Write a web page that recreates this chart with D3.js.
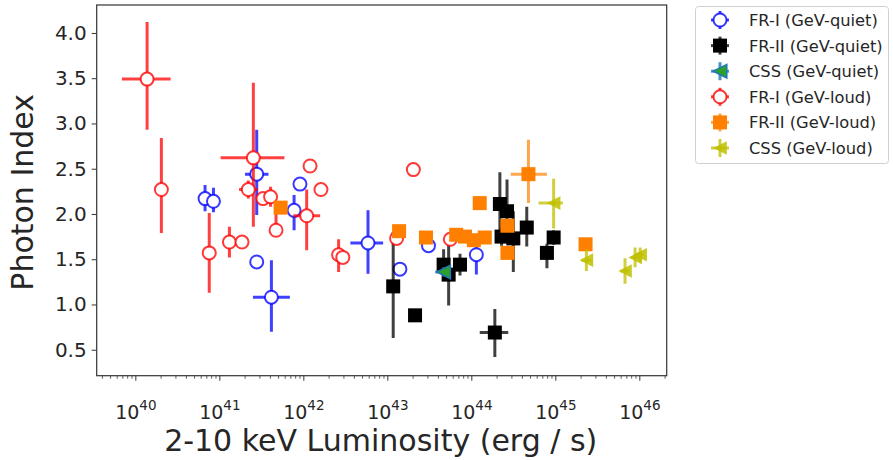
<!DOCTYPE html>
<html>
<head>
<meta charset="utf-8">
<script src="https://cdn.jsdelivr.net/npm/d3@7"></script>
<style>
  html, body { margin: 0; padding: 0; background: #fff; }
  svg { display: block; }
  text { font-family: "DejaVu Sans", sans-serif; fill: #262626; }
</style>
</head>
<body>
<svg id="chart" width="893" height="460"></svg>
<script>
// ---- data: log10(L_2-10keV / erg s^-1), photon index, and asymmetric errors [minus, plus] ----
const friQuietLogL = [40.83, 40.93, 41.445, 41.445, 41.62, 41.89, 41.96, 42.77, 43.15, 43.49, 44.06];
const friQuietGamma = [2.17, 2.14, 2.44, 1.47, 1.08, 2.04, 2.33, 1.68, 1.39, 1.65, 1.55];
const friQuietGammaErr = [[0.14,0.15],[0.12,0.15],[0.45,0.49],[0.05,0.05],[0.38,0.41],[0.22,0.17],[0.05,0.05],[0.34,0.36],[0.05,0.05],[0.03,0.03],[0.22,0.10]];
const friQuietLogLErr = [[0,0],[0,0],[0.14,0.14],[0,0],[0.22,0.22],[0,0],[0,0],[0.21,0.18],[0,0],[0,0],[0,0]];

const friiQuietLogL = [43.07, 43.33, 43.67, 43.73, 43.865, 44.28, 44.34, 44.425, 44.36, 44.50, 44.66, 44.90, 44.98];
const friiQuietGamma = [1.20, 0.88, 1.44, 1.33, 1.44, 0.69, 2.11, 2.03, 1.75, 1.73, 1.85, 1.57, 1.74];
const friiQuietGammaErr = [[0.57,0.60],[0.05,0.06],[0.10,0.17],[0.34,0.38],[0.12,0.12],[0.27,0.26],[0.30,0.35],[0.30,0.35],[0.10,0.10],[0.37,0.30],[0.21,0.23],[0.17,0.10],[0.08,0.08]];
const friiQuietLogLErr = [[0,0],[0,0],[0,0],[0,0],[0,0],[0.18,0.16],[0,0],[0,0],[0,0],[0,0],[0,0],[0,0],[0,0]];

const cssQuietLogL = [43.67];
const cssQuietGamma = [1.36];
const cssQuietGammaErr = [[0.05,0.05]];
const cssQuietLogLErr = [[0.10,0.05]];

const friLoudLogL = [40.14, 40.31, 40.88, 41.12, 41.27, 41.345, 41.405, 41.52, 41.61, 41.675, 42.04, 42.08, 42.21, 42.42, 42.47, 43.11, 43.31, 43.75];
const friLoudGamma = [3.49, 2.27, 1.57, 1.69, 1.69, 2.27, 2.62, 2.17, 2.19, 1.82, 1.98, 2.53, 2.27, 1.55, 1.52, 1.73, 2.49, 1.72];
const friLoudGammaErr = [[0.56,0.63],[0.48,0.57],[0.44,0.44],[0.17,0.17],[0.03,0.03],[0.10,0.10],[0.76,0.83],[0.03,0.03],[0.11,0.11],[0.05,0.20],[0.38,0.29],[0,0],[0,0],[0.19,0.17],[0,0],[0,0],[0,0],[0.03,0.03]];
const friLoudLogLErr = [[0.30,0.28],[0,0],[0,0],[0,0],[0,0],[0.11,0.11],[0.39,0.37],[0,0],[0,0],[0,0],[0.16,0.16],[0,0],[0,0],[0,0],[0,0],[0,0],[0,0],[0,0]];

const friiLoudLogL = [41.73, 43.14, 43.46, 43.82, 43.925, 44.03, 44.16, 44.10, 44.43, 44.43, 44.68, 45.36];
const friiLoudGamma = [2.07, 1.81, 1.74, 1.77, 1.75, 1.71, 1.74, 2.12, 1.87, 1.57, 2.44, 1.665];
const friiLoudGammaErr = [[0.03,0.03],[0.03,0.03],[0.03,0.03],[0.03,0.03],[0.03,0.03],[0.03,0.03],[0.03,0.03],[0.03,0.03],[0.03,0.03],[0.03,0.03],[0.32,0.38],[0.03,0.03]];
const friiLoudLogLErr = [[0,0],[0,0],[0,0],[0,0],[0,0],[0,0],[0,0],[0,0],[0,0],[0,0],[0.21,0.22],[0,0]];

const cssLoudLogL = [44.98, 45.37, 45.83, 45.95, 46.01];
const cssLoudGamma = [2.12, 1.49, 1.37, 1.52, 1.55];
const cssLoudGammaErr = [[0.28,0.27],[0.12,0.12],[0.14,0.14],[0.11,0.11],[0.08,0.08]];
const cssLoudLogLErr = [[0.18,0.11],[0.06,0.06],[0.05,0.05],[0.05,0.05],[0.05,0.05]];

const yTicks = [0.5, 1.0, 1.5, 2.0, 2.5, 3.0, 3.5, 4.0];
const xTickExponents = [40, 41, 42, 43, 44, 45, 46];
const xLabel = "2-10 keV Luminosity (erg / s)";
const yLabel = "Photon Index";

// ---- series styling ----
const series = [
  { name: "FR-I (GeV-quiet)",  logL: friQuietLogL,  gamma: friQuietGamma,  gErr: friQuietGammaErr,  lErr: friQuietLogLErr,
    marker: "circle",   stroke: "rgba(0,0,255,0.78)", fill: "#fff", errColor: "rgba(0,0,255,0.75)" },
  { name: "FR-II (GeV-quiet)", logL: friiQuietLogL, gamma: friiQuietGamma, gErr: friiQuietGammaErr, lErr: friiQuietLogLErr,
    marker: "square",   stroke: "none", fill: "#000", errColor: "rgba(0,0,0,0.75)" },
  { name: "CSS (GeV-quiet)",   logL: cssQuietLogL,  gamma: cssQuietGamma,  gErr: cssQuietGammaErr,  lErr: cssQuietLogLErr,
    marker: "triangle", stroke: "#1f77b4", fill: "#2ca02c", errColor: "rgba(31,119,180,0.8)" },
  { name: "FR-I (GeV-loud)",   logL: friLoudLogL,   gamma: friLoudGamma,   gErr: friLoudGammaErr,   lErr: friLoudLogLErr,
    marker: "circle",   stroke: "rgba(255,0,0,0.78)", fill: "#fff", errColor: "rgba(255,0,0,0.75)" },
  { name: "FR-II (GeV-loud)",  logL: friiLoudLogL,  gamma: friiLoudGamma,  gErr: friiLoudGammaErr,  lErr: friiLoudLogLErr,
    marker: "square",   stroke: "none", fill: "#ff7f00", errColor: "rgba(255,127,0,0.7)" },
  { name: "CSS (GeV-loud)",    logL: cssLoudLogL,   gamma: cssLoudGamma,   gErr: cssLoudGammaErr,   lErr: cssLoudLogLErr,
    marker: "triangle", stroke: "none", fill: "rgba(191,191,0,0.85)", errColor: "rgba(191,191,0,0.75)" }
];

// ---- layout ----
const plot = { left: 96.7, right: 666.7, top: 5, bottom: 375.7 };
const svg = d3.select("#chart");

const x = d3.scaleLog()
  .domain([Math.pow(10, 39.54), Math.pow(10, 46.326)])
  .range([plot.left, plot.right]);
const y = d3.scaleLinear()
  .domain([0.213, 4.309])
  .range([plot.bottom, plot.top]);

svg.append("clipPath").attr("id", "plotclip")
  .append("rect")
  .attr("x", plot.left).attr("y", plot.top)
  .attr("width", plot.right - plot.left).attr("height", plot.bottom - plot.top);

// ---- axes ----
const yAxis = d3.axisLeft(y).tickValues(yTicks).tickFormat(d3.format(".1f")).tickSize(5).tickPadding(5);
const gy = svg.append("g").attr("transform", `translate(${plot.left},0)`).call(yAxis);
gy.select(".domain").remove();
gy.selectAll(".tick line").attr("stroke", "#333").attr("stroke-width", 1);
gy.selectAll(".tick text").style("font-size", "20px").attr("fill", "#262626");

// minor ticks on the log axis: 2..9 x 10^k
const minorVals = [];
for (let e = 39; e <= 46; e++) {
  for (let m = 2; m <= 9; m++) {
    const v = m * Math.pow(10, e);
    if (v > x.domain()[0] && v < x.domain()[1]) minorVals.push(v);
  }
}
const xMinor = d3.axisBottom(x).tickValues(minorVals).tickFormat("").tickSize(3);
const gxm = svg.append("g").attr("transform", `translate(0,${plot.bottom})`).call(xMinor);
gxm.select(".domain").remove();
gxm.selectAll(".tick line").attr("stroke", "#333").attr("stroke-width", 0.8);

const xAxis = d3.axisBottom(x)
  .tickValues(xTickExponents.map(e => Math.pow(10, e)))
  .tickFormat("")
  .tickSize(5);
const gx = svg.append("g").attr("transform", `translate(0,${plot.bottom})`).call(xAxis);
gx.select(".domain").remove();
gx.selectAll(".tick line").attr("stroke", "#333").attr("stroke-width", 1);
gx.selectAll(".tick").each(function(d, i) {
  const t = d3.select(this).append("text")
    .attr("y", 43)
    .attr("text-anchor", "middle")
    .style("font-size", "19px")
    .attr("fill", "#262626");
  t.append("tspan").text("10");
  t.append("tspan").attr("dy", -9).style("font-size", "13.5px").text(String(xTickExponents[i]));
});

// axis titles
svg.append("text")
  .attr("x", (plot.left + plot.right) / 2 - 1)
  .attr("y", 451)
  .attr("text-anchor", "middle")
  .style("font-size", "30px")
  .text(xLabel);
svg.append("text")
  .attr("transform", `translate(33,${(plot.top + plot.bottom) / 2 + 2}) rotate(-90)`)
  .attr("text-anchor", "middle")
  .style("font-size", "30px")
  .text(yLabel);

// ---- marker drawing ----
const CIRCLE_R = 6.5, SQUARE = 14, TRI = 6.8;
function drawMarker(g, s, cx, cy) {
  if (s.marker === "circle") {
    g.append("circle").attr("cx", cx).attr("cy", cy).attr("r", CIRCLE_R)
      .attr("fill", s.fill).attr("stroke", s.stroke).attr("stroke-width", 2);
  } else if (s.marker === "square") {
    g.append("rect").attr("x", cx - SQUARE / 2).attr("y", cy - SQUARE / 2)
      .attr("width", SQUARE).attr("height", SQUARE)
      .attr("fill", s.fill);
  } else {
    const pts = [[cx - TRI, cy], [cx + TRI, cy - TRI], [cx + TRI, cy + TRI]];
    g.append("path").attr("d", "M" + pts.map(p => p.join(",")).join("L") + "Z")
      .attr("fill", s.fill)
      .attr("stroke", s.stroke === "none" ? null : s.stroke)
      .attr("stroke-width", 1.5);
  }
}

const plotG = svg.append("g").attr("clip-path", "url(#plotclip)");
series.forEach(s => {
  const g = plotG.append("g");
  const pts = s.logL.map((l, i) => ({
    L: Math.pow(10, l), lo: Math.pow(10, l - s.lErr[i][0]), hi: Math.pow(10, l + s.lErr[i][1]),
    G: s.gamma[i], gLo: s.gamma[i] - s.gErr[i][0], gHi: s.gamma[i] + s.gErr[i][1]
  }));
  // error bars first, markers on top
  pts.forEach(p => {
    if (p.gHi > p.gLo) {
      g.append("line").attr("x1", x(p.L)).attr("x2", x(p.L)).attr("y1", y(p.gLo)).attr("y2", y(p.gHi))
        .attr("stroke", s.errColor).attr("stroke-width", 3);
    }
    if (p.hi > p.lo) {
      g.append("line").attr("x1", x(p.lo)).attr("x2", x(p.hi)).attr("y1", y(p.G)).attr("y2", y(p.G))
        .attr("stroke", s.errColor).attr("stroke-width", 3);
    }
  });
  pts.forEach(p => drawMarker(g, s, x(p.L), y(p.G)));
});

// frame
svg.append("rect")
  .attr("x", plot.left).attr("y", plot.top)
  .attr("width", plot.right - plot.left).attr("height", plot.bottom - plot.top)
  .attr("fill", "none").attr("stroke", "#333").attr("stroke-width", 1.2);

// ---- legend ----
const leg = svg.append("g");
leg.append("rect")
  .attr("x", 695.5).attr("y", 6.5).attr("width", 193).attr("height", 157).attr("rx", 3)
  .attr("fill", "#fff").attr("stroke", "#d0d0d0").attr("stroke-width", 1);
series.forEach((s, i) => {
  const cy = 20 + i * 25.6, cx = 720;
  const g = leg.append("g");
  g.append("line").attr("x1", cx).attr("x2", cx).attr("y1", cy - 9).attr("y2", cy + 9)
    .attr("stroke", s.errColor).attr("stroke-width", 3);
  g.append("line").attr("x1", cx - 9).attr("x2", cx + 9).attr("y1", cy).attr("y2", cy)
    .attr("stroke", s.errColor).attr("stroke-width", 3);
  drawMarker(g, s, cx, cy);
  g.append("text").attr("x", 749).attr("y", cy + 6).style("font-size", "16.3px").text(s.name);
});
</script>
</body>
</html>
